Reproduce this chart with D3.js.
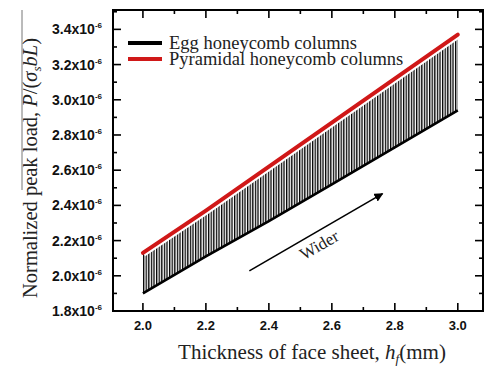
<!DOCTYPE html>
<html><head><meta charset="utf-8">
<script src="https://cdn.jsdelivr.net/npm/d3@7"></script>
<style>
html,body{margin:0;padding:0;background:#fff;}
svg{display:block;}
</style></head>
<body>
<svg id="c" width="491" height="367"></svg>
<script>
// thickness of face sheet h_f (mm)
const hf = [2.0, 2.2, 2.4, 2.6, 2.8, 3.0];
// normalized peak load (x1e-6)
const eggLoad = [1.90, 2.11, 2.31, 2.52, 2.73, 2.94];
const pyramidalLoad = [2.13, 2.37, 2.62, 2.87, 3.12, 3.37];
const xTicks = [2.0, 2.2, 2.4, 2.6, 2.8, 3.0];
const xMinor = [2.1, 2.3, 2.5, 2.7, 2.9];
const yTicks = [1.8, 2.0, 2.2, 2.4, 2.6, 2.8, 3.0, 3.2, 3.4];
const yMinor = [1.9, 2.1, 2.3, 2.5, 2.7, 2.9, 3.1, 3.3, 3.5];
const seriesNames = ["Egg honeycomb columns", "Pyramidal honeycomb columns"];
const arrowFrom = [2.338, 2.028];
const arrowTo = [2.761, 2.467];
const arrowLabel = "Wider";

const svg = d3.select("#c");
const L = 113, R = 483, T = 10, B = 311;
const x = d3.scaleLinear().domain([1.905, 3.08]).range([L, R]);
const y = d3.scaleLinear().domain([1.8, 3.51]).range([B, T]);

const defs = svg.append("defs");
const pat = defs.append("pattern").attr("id", "hatch").attr("patternUnits", "userSpaceOnUse")
  .attr("width", 2.6).attr("height", 10);
pat.append("rect").attr("width", 2.6).attr("height", 10).attr("fill", "#fff");
pat.append("rect").attr("x", 0).attr("width", 1.3).attr("height", 10).attr("fill", "#000");

const pts = hf.map((h, i) => ({h, e: eggLoad[i], p: pyramidalLoad[i]}));

// hatched band between series
svg.append("path").datum(pts)
  .attr("d", d3.area().x(d => x(d.h)).y0(d => y(d.e)).y1(d => y(d.p)))
  .attr("fill", "url(#hatch)");

const line = key => d3.line().x(d => x(d.h)).y(d => y(d[key]));
svg.append("path").datum(pts).attr("d", line("e")).attr("fill", "none")
  .attr("stroke", "#000").attr("stroke-width", 2.6);
svg.append("path").datum(pts).attr("d", line("p")).attr("fill", "none")
  .attr("stroke", "#fff").attr("stroke-width", 8);
svg.append("path").datum(pts).attr("d", line("p")).attr("fill", "none")
  .attr("stroke", "#d01818").attr("stroke-width", 4).attr("stroke-linecap", "round");

// frame
svg.append("rect").attr("x", L).attr("y", T).attr("width", R - L).attr("height", B - T)
  .attr("fill", "none").attr("stroke", "#000").attr("stroke-width", 2);

// axes ticks
const g = svg.append("g").attr("stroke", "#000").attr("stroke-width", 1.6);
xTicks.forEach(v => {
  g.append("line").attr("x1", x(v)).attr("x2", x(v)).attr("y1", B).attr("y2", B - 8);
  g.append("line").attr("x1", x(v)).attr("x2", x(v)).attr("y1", T).attr("y2", T + 8);
});
xMinor.forEach(v => {
  g.append("line").attr("x1", x(v)).attr("x2", x(v)).attr("y1", B).attr("y2", B - 4);
  g.append("line").attr("x1", x(v)).attr("x2", x(v)).attr("y1", T).attr("y2", T + 4);
});
yTicks.forEach(v => {
  g.append("line").attr("y1", y(v)).attr("y2", y(v)).attr("x1", L).attr("x2", L + 8);
  g.append("line").attr("y1", y(v)).attr("y2", y(v)).attr("x1", R).attr("x2", R - 8);
});
yMinor.forEach(v => {
  g.append("line").attr("y1", y(v)).attr("y2", y(v)).attr("x1", L).attr("x2", L + 4);
  g.append("line").attr("y1", y(v)).attr("y2", y(v)).attr("x1", R).attr("x2", R - 4);
});

// tick labels
const sans = "'Liberation Sans', Arial, sans-serif";
svg.append("g").selectAll("text").data(xTicks).join("text")
  .attr("x", d => x(d)).attr("y", 330).attr("text-anchor", "middle")
  .attr("font-family", sans).attr("font-size", 13).attr("font-weight", "bold").attr("fill", "#111")
  .text(d => d.toFixed(1));
const yl = svg.append("g").selectAll("text").data(yTicks).join("text")
  .attr("x", 102).attr("y", d => y(d) + 5).attr("text-anchor", "end")
  .attr("font-family", sans).attr("font-size", 14).attr("font-weight", "bold").attr("fill", "#111");
yl.append("tspan").text(d => d.toFixed(1) + "x10");
yl.append("tspan").attr("dy", -6).attr("font-size", 8).text("-6");

// legend
const serif = "'Liberation Serif', 'Times New Roman', serif";
const legColors = ["#000", "#d01818"];
seriesNames.forEach((n, i) => {
  const ly = 43 + i * 16;
  svg.append("line").attr("x1", 128).attr("x2", 162).attr("y1", ly).attr("y2", ly)
    .attr("stroke", legColors[i]).attr("stroke-width", 4);
  svg.append("text").attr("x", 169).attr("y", ly + 6).attr("font-family", serif)
    .attr("font-size", 18.5).attr("fill", "#222").text(n);
});

// arrow
defs.append("marker").attr("id", "ah").attr("viewBox", "0 0 10 10").attr("refX", 9).attr("refY", 5)
  .attr("markerWidth", 9).attr("markerHeight", 9).attr("markerUnits", "userSpaceOnUse")
  .attr("orient", "auto").append("path").attr("d", "M0,0 L10,5 L0,10 z").attr("fill", "#000");
svg.append("line").attr("x1", x(arrowFrom[0])).attr("y1", y(arrowFrom[1]))
  .attr("x2", x(arrowTo[0])).attr("y2", y(arrowTo[1]))
  .attr("stroke", "#000").attr("stroke-width", 1.6).attr("marker-end", "url(#ah)");
const ang = Math.atan2(y(arrowTo[1]) - y(arrowFrom[1]), x(arrowTo[0]) - x(arrowFrom[0])) * 180 / Math.PI;
svg.append("text").attr("transform", `translate(322,250) rotate(${ang})`)
  .attr("text-anchor", "middle").attr("font-family", serif).attr("font-size", 17).attr("fill", "#222")
  .text(arrowLabel);

// axis titles
const xt = svg.append("text").attr("x", 312).attr("y", 359).attr("text-anchor", "middle")
  .attr("font-family", serif).attr("font-size", 21).attr("fill", "#222");
xt.append("tspan").text("Thickness of face sheet, ");
xt.append("tspan").attr("font-style", "italic").text("h");
xt.append("tspan").attr("font-style", "italic").attr("font-size", 13).attr("dy", 4).text("f");
xt.append("tspan").attr("dy", -4).text("(mm)");

const yt = svg.append("text").attr("transform", "translate(37,168) rotate(-90)").attr("text-anchor", "middle")
  .attr("font-family", serif).attr("font-size", 20.5).attr("fill", "#222");
yt.append("tspan").text("Normalized peak load, ");
yt.append("tspan").attr("font-style", "italic").text("P");
yt.append("tspan").text("/(");
yt.append("tspan").attr("font-style", "italic").text("σ");
yt.append("tspan").attr("font-style", "italic").attr("font-size", 13).attr("dy", 4).text("s");
yt.append("tspan").attr("font-style", "italic").attr("dy", -4).text("bL");
yt.append("tspan").text(")");
svg.append("line").attr("x1", 22).attr("x2", 22).attr("y1", 10).attr("y2", 190)
  .attr("stroke", "#777").attr("stroke-width", 1);
</script>
</body></html>
